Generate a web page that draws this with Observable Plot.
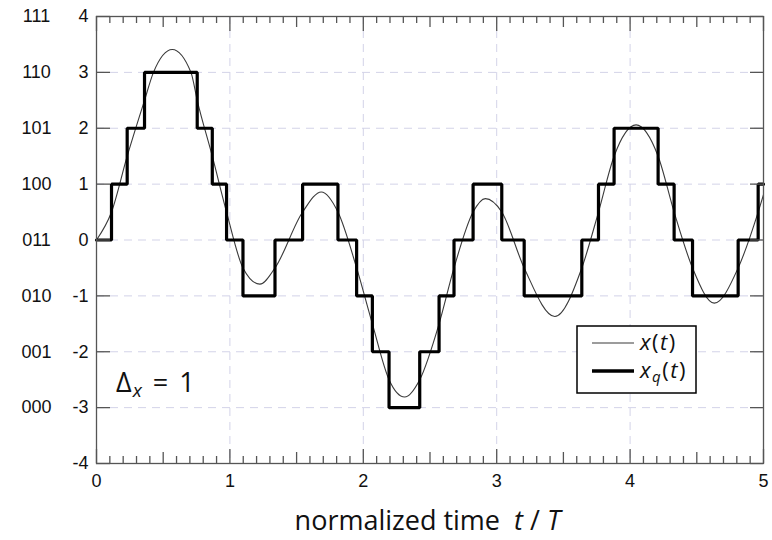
<!DOCTYPE html>
<html><head><meta charset="utf-8">
<script src="https://cdn.jsdelivr.net/npm/d3@7"></script>
<script src="https://cdn.jsdelivr.net/npm/@observablehq/plot@0.6"></script>
<style>body{margin:0;background:#fff} #chart{width:772px;height:540px}</style>
</head><body><div id="chart"></div>
<script>
// continuous signal x(t)
const curveT = [0, 0.1125, 0.23, 0.36, 0.427, 0.568, 0.708, 0.755, 0.868, 0.975, 1.098, 1.225, 1.338, 1.545, 1.685, 1.81, 1.95, 2.068, 2.193, 2.31, 2.423, 2.568, 2.68, 2.823, 2.915, 3.038, 3.206, 3.436, 3.638, 3.763, 3.88, 4.045, 4.21, 4.33, 4.468, 4.631, 4.81, 4.96, 5];
const curveV = [0, 0.5, 1.5, 2.5, 3.0, 3.41, 3.0, 2.5, 1.5, 0.5, -0.5, -0.79, -0.5, 0.5, 0.86, 0.5, -0.5, -1.5, -2.5, -2.81, -2.5, -1.5, -0.5, 0.5, 0.74, 0.5, -0.5, -1.37, -0.5, 0.5, 1.5, 2.06, 1.5, 0.5, -0.5, -1.13, -0.5, 0.5, 0.81];
// quantized signal xq(t): level changes
const stepT = [0, 0.1125, 0.23, 0.36, 0.755, 0.868, 0.975, 1.098, 1.338, 1.545, 1.81, 1.95, 2.068, 2.193, 2.423, 2.568, 2.68, 2.823, 3.038, 3.206, 3.638, 3.763, 3.88, 4.21, 4.33, 4.468, 4.81, 4.96, 5];
const stepV = [0, 1, 2, 3, 2, 1, 0, -1, 0, 1, 0, -1, -2, -3, -2, -1, 0, 1, 0, -1, 0, 1, 2, 1, 0, -1, 0, 1, 1];
// axes
const xTickValues = [0, 1, 2, 3, 4, 5];
const yTickValues = [4, 3, 2, 1, 0, -1, -2, -3, -4];
const yTickLabels = ["4", "3", "2", "1", "0", "-1", "-2", "-3", "-4"];
const codeLevels = [4, 3, 2, 1, 0, -1, -2, -3];
const codeLabels = ["111", "110", "101", "100", "011", "010", "001", "000"];
const legendNames = ["x(t)", "xq(t)"];

const W = 772, H = 540, mL = 96, mR = 9, mT = 16, mB = 77;
const iW = W - mL - mR, iH = H - mT - mB;
const curve = curveT.map((t, i) => ({t, v: curveV[i]}));
const steps = stepT.map((t, i) => ({t, v: stepV[i]}));
const yTicks = yTickValues.map((v, i) => ({v, label: yTickLabels[i]}));
const codes = codeLevels.map((v, i) => ({v, label: codeLabels[i]}));
const minor = d3.range(0, 51).map(i => ({x: i / 10, k: i % 10 === 0 ? 2 : (i % 5 === 0 ? 1 : 0)}));
const lenBottom = [7, 11, 14], lenTop = [7, 11, 15];
const axisColor = "#555";
const gridColor = "#d3d3e8";
const numFont = "'Liberation Sans', Arial, sans-serif";
const FS = 18;

const plot = Plot.plot({
  width: W, height: H,
  marginLeft: mL, marginRight: mR, marginTop: mT, marginBottom: mB,
  x: {domain: [0, 5], axis: null},
  y: {domain: [-4, 4], axis: null},
  style: {fontFamily: numFont, fontSize: FS + "px", background: "#fff"},
  marks: [
    Plot.ruleX(xTickValues.slice(1, -1), {stroke: gridColor, strokeWidth: 1, strokeDasharray: "8,6"}),
    Plot.ruleY(yTickValues.slice(1, -1), {stroke: gridColor, strokeWidth: 1, strokeDasharray: "8,6"}),
    Plot.line(curve, {x: "t", y: "v", curve: "monotone-x", stroke: "#3a3a3a", strokeWidth: 1.1}),
    Plot.line(steps, {x: "t", y: "v", curve: "step-after", stroke: "#000", strokeWidth: 3.2, strokeLinejoin: "miter"}),
    Plot.frame({stroke: axisColor, strokeWidth: 1.3}),
    // bottom ticks
    ...[0, 1, 2].map(k => Plot.ruleX(minor.filter(d => d.k === k), {x: "x", insetTop: iH - lenBottom[k], stroke: axisColor, strokeWidth: 1.3})),
    // top ticks
    ...[0, 1, 2].map(k => Plot.ruleX(minor.filter(d => d.k === k), {x: "x", insetBottom: iH - lenTop[k], stroke: axisColor, strokeWidth: 1.3})),
    // left / right ticks
    Plot.ruleY(yTicks, {y: "v", insetRight: iW - 14, stroke: axisColor, strokeWidth: 1.3}),
    Plot.ruleY(yTicks, {y: "v", insetLeft: iW - 13, stroke: axisColor, strokeWidth: 1.3}),
    // tick labels
    Plot.text(yTicks, {y: "v", text: "label", frameAnchor: "left", dx: -8, textAnchor: "end", fill: "#111", fontSize: FS}),
    Plot.text(codes, {y: "v", text: "label", frameAnchor: "left", dx: -60, textAnchor: "middle", fill: "#111", fontSize: FS}),
    Plot.text(xTickValues, {x: d => d, text: d => String(d), frameAnchor: "bottom", dy: 11, lineAnchor: "top", fill: "#111", fontSize: FS})
  ]
});
document.getElementById("chart").appendChild(plot);

const svg = d3.select(plot);
const mathFont = "'Open Sans', 'DejaVu Sans', sans-serif";

// x-axis label
const xl = svg.append("text")
  .attr("x", mL + iW / 2 - 2).attr("y", H - 10)
  .attr("text-anchor", "middle")
  .attr("font-family", mathFont).attr("font-size", 27).attr("fill", "#111");
xl.append("tspan").text("normalized time  ");
xl.append("tspan").attr("font-style", "italic").text("t");
xl.append("tspan").text(" / ");
xl.append("tspan").attr("font-style", "italic").text("T");

// Delta annotation
const da = svg.append("text")
  .attr("x", mL + 20).attr("y", H - mB - 71)
  .attr("text-anchor", "start")
  .attr("font-family", mathFont).attr("font-size", 27).attr("fill", "#111");
da.append("tspan").text("Δ");
da.append("tspan").attr("font-style", "italic").attr("font-size", 19).attr("dy", 5).attr("dx", 1).text("x");
da.append("tspan").attr("dy", -5).attr("dx", 11).text("=");
da.append("tspan").attr("dx", 11).text("1");

// legend
const bw = 119, bh = 67;
const lg = svg.append("g").attr("transform", `translate(${W - mR - 67 - bw},${H - mB - 70 - bh})`);
lg.append("rect").attr("width", bw).attr("height", bh).attr("fill", "#fff").attr("stroke", "#000").attr("stroke-width", 1.5);
lg.append("line").attr("x1", 15).attr("x2", 57).attr("y1", 17).attr("y2", 17).attr("stroke", "#3a3a3a").attr("stroke-width", 1.1);
lg.append("line").attr("x1", 15).attr("x2", 57).attr("y1", 45).attr("y2", 45).attr("stroke", "#000").attr("stroke-width", 3.5);
const t1 = lg.append("text").attr("x", 63).attr("y", 24).attr("text-anchor", "start").attr("font-family", mathFont).attr("font-size", 22).attr("letter-spacing", 1.5).attr("fill", "#111");
t1.append("tspan").attr("font-style", "italic").text("x");
t1.append("tspan").text("(");
t1.append("tspan").attr("font-style", "italic").text("t");
t1.append("tspan").text(")");
const t2 = lg.append("text").attr("x", 63).attr("y", 52).attr("text-anchor", "start").attr("font-family", mathFont).attr("font-size", 22).attr("letter-spacing", 1.5).attr("fill", "#111");
t2.append("tspan").attr("font-style", "italic").text("x");
t2.append("tspan").attr("font-style", "italic").attr("font-size", 15).attr("dy", 4).text("q");
t2.append("tspan").attr("dy", -4).text("(");
t2.append("tspan").attr("font-style", "italic").text("t");
t2.append("tspan").text(")");
</script>
</body></html>
